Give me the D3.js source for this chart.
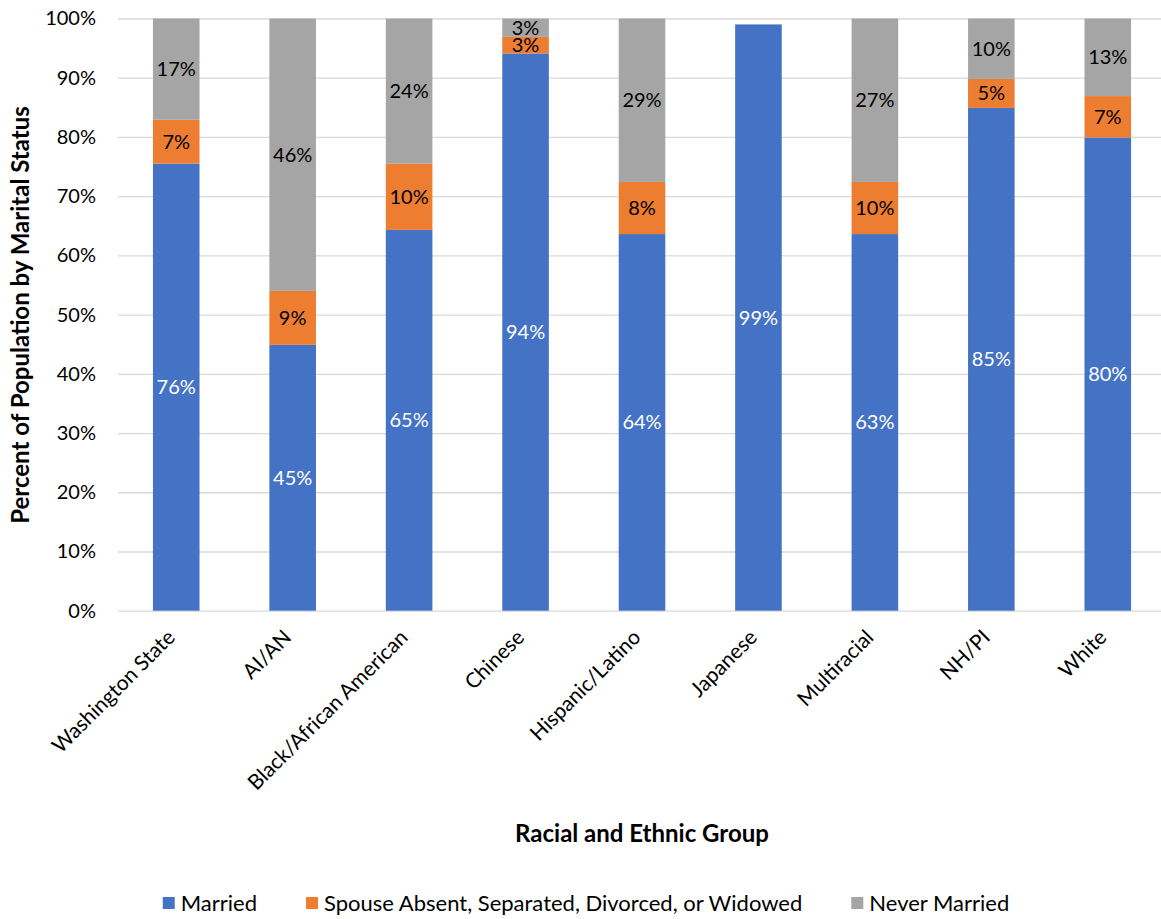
<!DOCTYPE html>
<html><head><meta charset="utf-8">
<script src="https://cdn.jsdelivr.net/npm/d3@7"></script>
<style>
body{margin:0;background:#fff}
text{font-family:Lato,'Open Sans',sans-serif}
</style></head>
<body><svg id="c" width="1161" height="919"></svg>
<script>
const categories=["Washington State","AI/AN","Black/African American","Chinese","Hispanic/Latino","Japanese","Multiracial","NH/PI","White"];
const seriesNames=["Married","Spouse Absent, Separated, Divorced, or Widowed","Never Married"];
const married=[75.5,44.9,64.3,94.1,63.6,99.0,63.6,84.9,79.9];
const separated=[7.4,9.1,11.2,2.8,8.8,0,8.8,4.9,7.0];
const neverMarried=[17.1,46.0,24.5,3.1,27.6,0,27.6,10.2,13.1];
const marriedLabels=["76%","45%","65%","94%","64%","99%","63%","85%","80%"];
const separatedLabels=["7%","9%","10%","3%","8%","","10%","5%","7%"];
const neverLabels=["17%","46%","24%","3%","29%","","27%","10%","13%"];
const yTicks=[0,10,20,30,40,50,60,70,80,90,100];
const colors=["#4472C4","#ED7D31","#A5A5A5"];
const labelColors=["#ffffff","#000000","#000000"];

const svg=d3.select("#c");
const x=d3.scaleBand().domain(categories).range([118,1166]).paddingInner(0.6).paddingOuter(0.3);
const y=d3.scaleLinear().domain([0,100]).range([610.7,18.5]);

// gridlines
svg.append("g").attr("transform","translate(118,0)")
  .call(d3.axisLeft(y).tickValues(yTicks).tickSize(-1043).tickFormat(""))
  .call(g=>g.select(".domain").remove())
  .call(g=>g.selectAll("line").attr("stroke","#d9d9d9").attr("stroke-width",1.3));

// y tick labels
svg.append("g").attr("transform","translate(118,0)")
  .call(d3.axisLeft(y).tickValues(yTicks).tickSize(0).tickPadding(22).tickFormat(d=>d+"%"))
  .call(g=>g.select(".domain").remove())
  .call(g=>g.selectAll("text").attr("font-size",20).attr("fill","#000").style("font-family","Lato"));

const rows=categories.map((c,i)=>({cat:c,s0:married[i],s1:separated[i],s2:neverMarried[i],l0:marriedLabels[i],l1:separatedLabels[i],l2:neverLabels[i]}));
const stacked=d3.stack().keys(["s0","s1","s2"])(rows);

stacked.forEach((layer,k)=>{
  const g=svg.append("g");
  g.selectAll("rect").data(layer).join("rect")
    .attr("x",d=>x(d.data.cat)).attr("width",x.bandwidth())
    .attr("y",d=>y(d[1])).attr("height",d=>Math.max(0,y(d[0])-y(d[1])))
    .attr("fill",colors[k]);
});
stacked.forEach((layer,k)=>{
  svg.append("g").selectAll("text").data(layer.filter(d=>d[1]-d[0]>0)).join("text")
    .attr("x",d=>x(d.data.cat)+x.bandwidth()/2)
    .attr("y",d=>(y(d[0])+y(d[1]))/2)
    .attr("dy","0.35em").attr("text-anchor","middle")
    .attr("font-size",20).attr("fill",labelColors[k])
    .text(d=>d.data["l"+k]);
});

// x axis labels
svg.append("g").attr("transform","translate(0,610.7)")
  .call(d3.axisBottom(x).tickSize(0).tickFormat(d=>d))
  .call(g=>g.select(".domain").remove())
  .call(g=>g.selectAll("text").attr("font-size",21).attr("fill","#000")
     .attr("text-anchor","end").attr("dy",0).attr("y",0)
     .attr("transform","translate(0,28) rotate(-45)"));

// axis titles
svg.append("text").attr("x",642).attr("y",842).attr("text-anchor","middle")
  .attr("font-size",24).attr("font-weight","bold").attr("fill","#000").text("Racial and Ethnic Group");
svg.append("text").attr("transform","translate(29,315) rotate(-90)").attr("text-anchor","middle")
  .attr("font-size",24).attr("font-weight","bold").attr("fill","#000").text("Percent of Population by Marital Status");

// legend
const leg=svg.append("g");
let lx=0;
seriesNames.forEach((n,i)=>{
  const it=leg.append("g");
  it.append("rect").attr("width",12).attr("height",12).attr("y",-6).attr("fill",colors[i]);
  const t=it.append("text").attr("x",18).attr("dy","0.35em").attr("font-size",22).attr("fill","#000").text(n);
  it.attr("transform",`translate(${lx},0)`);
  lx+=18+t.node().getComputedTextLength()+49;
});
const total=lx-49;
leg.attr("transform",`translate(${586-total/2},903)`);
</script></body></html>
